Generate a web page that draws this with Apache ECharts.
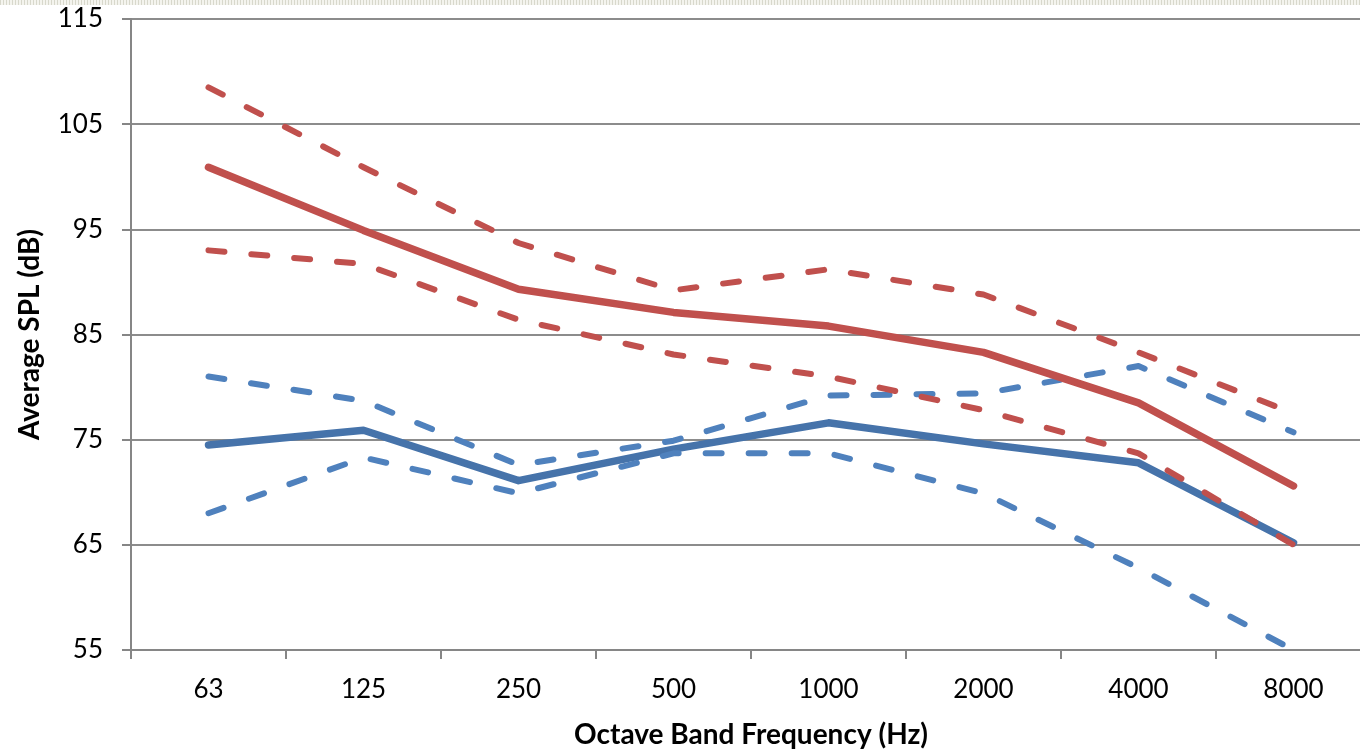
<!DOCTYPE html>
<html>
<head>
<meta charset="utf-8">
<script src="https://cdn.jsdelivr.net/npm/echarts@6/dist/echarts.min.js"></script>
<style>
html,body{margin:0;padding:0;background:#fff;overflow:hidden;}
#top{position:absolute;left:0;top:0;width:1360px;height:5px;
background-image:repeating-linear-gradient(90deg,#d8d8cc 0 1px,#f4f4ee 1px 3px);}
#chart{width:1360px;height:752px;}
</style>
</head>
<body>
<div id="top"></div>
<div id="chart"></div>
<script>
const categories = ['63','125','250','500','1000','2000','4000','8000'];
const redMean  = [100.9, 94.9, 89.3, 87.1, 85.8, 83.3, 78.5, 70.6];
const redUpper = [108.5, 100.9, 93.7, 89.2, 91.2, 88.8, 83.3, 77.5];
const redLower = [93.0, 91.7, 86.4, 83.1, 81.0, 77.8, 73.7, 65.0];
const blueMean  = [74.5, 75.9, 71.1, 74.1, 76.6, 74.6, 72.8, 65.2];
const blueUpper = [81.0, 78.7, 72.6, 74.9, 79.2, 79.4, 82.0, 75.7];
const blueLower = [68.0, 73.3, 69.9, 73.7, 73.7, 69.9, 62.8, 55.0];
const yTicks = {min: 55, max: 115, interval: 10};

const RED = '#C0504D', BLUE = '#4F81BD', BLUE_DARK = '#4673AA';
const FONT = 'Lato';

function dashed(name, data, color) {
  return {name, type: 'line', data, symbol: 'none', smooth: false,
    lineStyle: {color, width: 6, type: [16, 27], cap: 'round', join: 'round'},
    z: 3, animation: false};
}
function solid(name, data, color) {
  return {name, type: 'line', data, symbol: 'none',
    lineStyle: {color, width: 7.5, cap: 'round', join: 'round'},
    z: 3, animation: false};
}

const chart = echarts.init(document.getElementById('chart'));
chart.setOption({
  backgroundColor: 'transparent',
  animation: false,
  grid: {left: 131, top: 19, right: -11, bottom: 102, containLabel: false, outerBoundsMode: 'none'},
  xAxis: {
    type: 'category', data: categories, boundaryGap: true,
    name: 'Octave Band Frequency (Hz)', nameLocation: 'middle', nameGap: 71,
    nameTextStyle: {fontFamily: FONT, fontWeight: 'bold', fontSize: 28, color: '#000'},
    axisLine: {lineStyle: {color: '#868686', width: 2}},
    axisTick: {show: true, length: 9, alignWithLabel: false, lineStyle: {color: '#868686', width: 2}},
    axisLabel: {fontFamily: FONT, fontSize: 26, color: '#000', margin: 27},
    splitLine: {show: false}
  },
  yAxis: {
    type: 'value', min: yTicks.min, max: yTicks.max, interval: yTicks.interval,
    name: 'Average SPL (dB)', nameLocation: 'middle', nameGap: 87, nameRotate: 90,
    nameTextStyle: {fontFamily: FONT, fontWeight: 'bold', fontSize: 28, color: '#000'},
    axisLine: {show: true, lineStyle: {color: '#868686', width: 2}},
    axisTick: {show: true, length: 9, lineStyle: {color: '#868686', width: 2}},
    axisLabel: {fontFamily: FONT, fontSize: 26, color: '#000', margin: 28},
    splitLine: {show: true, lineStyle: {color: '#8c8c8c', width: 2}}
  },
  series: [
    solid('Blue mean', blueMean, BLUE_DARK),
    dashed('Blue upper', blueUpper, BLUE),
    dashed('Blue lower', blueLower, BLUE),
    solid('Red mean', redMean, RED),
    dashed('Red upper', redUpper, RED),
    dashed('Red lower', redLower, RED)
  ]
});
</script>
</body>
</html>
